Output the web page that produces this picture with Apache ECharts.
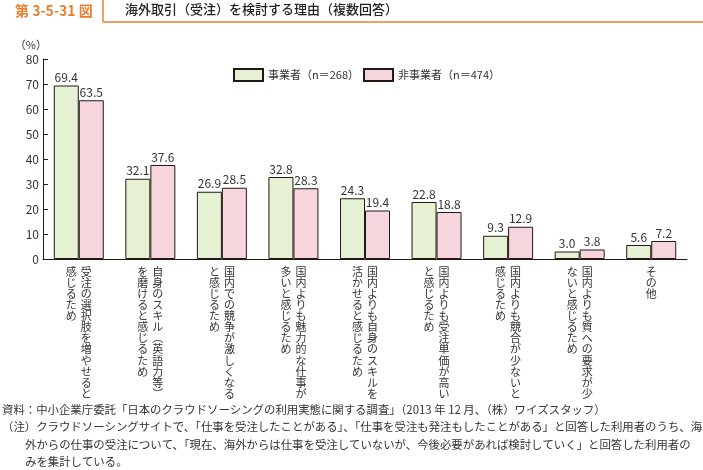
<!DOCTYPE html>
<html><head><meta charset="utf-8">
<script src="https://cdn.jsdelivr.net/npm/echarts@6/dist/echarts.min.js"></script>
<style>html,body{margin:0;padding:0;background:#fff}#c{width:703px;height:470px}</style>
</head><body><div id="c"></div>
<script>
const seriesNames = ['事業者（n＝268）', '非事業者（n＝474）'];
const rightCols = [
  '受注の選択肢を増やせると',
  '自身のスキル（英語力等）',
  '国内での競争が激しくなる',
  '国内よりも魅力的な仕事が',
  '国内よりも自身のスキルを',
  '国内よりも受注単価が高い',
  '国内よりも競合が少ないと',
  '国内よりも質への要求が少',
  'その他'
];
const leftCols = [
  '感じるため',
  'を磨けると感じるため',
  'と感じるため',
  '多いと感じるため',
  '活かせると感じるため',
  'と感じるため',
  '感じるため',
  'ないと感じるため',
  ''
];
const categories = rightCols.map((r, i) => r + leftCols[i]);
const jigyosha = [69.4, 32.1, 26.9, 32.8, 24.3, 22.8, 9.3, 3.0, 5.6];
const hiJigyosha = [63.5, 37.6, 28.5, 28.3, 19.4, 18.8, 12.9, 3.8, 7.2];
const yTicks = {min: 0, max: 80, interval: 10};

const FONT = '"Noto Sans CJK JP", "Noto Sans", sans-serif';
const TXT = '#333';

function vert(s) {
  return Array.from(s.replace(/（/g, '︵').replace(/）/g, '︶'));
}
function makeLabel(idx) {
  const r = vert(rightCols[idx]);
  const l = vert(leftCols[idx]);
  const lines = [];
  if (l.length === 0) {
    r.forEach(ch => lines.push('{c|' + ch + '}'));
  } else {
    const n = Math.max(r.length, l.length);
    for (let i = 0; i < n; i++) {
      lines.push('{a|' + (l[i] || '　') + '}{b|' + (r[i] || '　') + '}');
    }
  }
  return lines.join('\n');
}
const colStyle = {width: 15, align: 'center', fontSize: 11, lineHeight: 11.1, fontFamily: FONT, color: TXT};

const chart = echarts.init(document.getElementById('c'));
chart.setOption({
  animation: false,
  textStyle: {fontFamily: FONT},
  grid: {left: 43, right: 16, top: 59, bottom: 211, containLabel: false},
  legend: {
    left: 228, top: 63, icon: 'rect', itemWidth: 29, itemHeight: 12, itemGap: 4,
    textStyle: {fontSize: 11, color: TXT, fontFamily: FONT},
    data: seriesNames
  },
  xAxis: {
    type: 'category', data: categories,
    axisLine: {lineStyle: {color: '#231815', width: 1}},
    axisTick: {inside: true, length: 5, lineStyle: {color: '#231815'}},
    axisLabel: {
      interval: 0, margin: 7,
      formatter: (v, idx) => makeLabel(idx),
      rich: {a: colStyle, b: colStyle, c: Object.assign({}, colStyle, {width: 30})}
    }
  },
  yAxis: {
    type: 'value', min: yTicks.min, max: yTicks.max, interval: yTicks.interval,
    name: '（%）', nameLocation: 'end', nameGap: 14,
    nameTextStyle: {fontSize: 11, color: TXT, align: 'right', verticalAlign: 'middle', padding: [0, -4, 0, 0], fontFamily: FONT},
    axisLine: {show: true, lineStyle: {color: '#231815', width: 1}},
    axisTick: {show: true, inside: true, length: 5, lineStyle: {color: '#231815'}},
    axisLabel: {fontSize: 12, color: TXT, margin: 4, fontFamily: FONT},
    splitLine: {show: false}
  },
  series: [
    {
      name: seriesNames[0], type: 'bar', data: jigyosha, barWidth: 25, barGap: '0%',
      itemStyle: {color: '#e5f1d2', borderColor: '#231815', borderWidth: 1},
      label: {show: true, position: 'top', distance: 2, fontSize: 12, color: TXT, fontFamily: FONT, formatter: p => p.value.toFixed(1)}
    },
    {
      name: seriesNames[1], type: 'bar', data: hiJigyosha, barWidth: 25, barGap: '0%',
      itemStyle: {color: '#f6d5dc', borderColor: '#231815', borderWidth: 1},
      label: {show: true, position: 'top', distance: 2, fontSize: 12, color: TXT, fontFamily: FONT, formatter: p => p.value.toFixed(1)}
    }
  ],
  graphic: [
    {type: 'text', left: 15, top: 4, style: {text: '第 3-5-31 図', fill: '#e8802e', font: 'bold 14px ' + FONT}},
    {type: 'line', shape: {x1: 103, y1: 0, x2: 103, y2: 22}, style: {stroke: '#e8802e', lineWidth: 1.5}},
    {type: 'line', shape: {x1: 103, y1: 22, x2: 703, y2: 22}, style: {stroke: '#e8802e', lineWidth: 1.5}},
    {type: 'text', left: 125, top: 3, style: {text: '海外取引（受注）を検討する理由（複数回答）', fill: '#222', font: '500 13px ' + FONT}},
    {type: 'text', left: 2, top: 404, style: {text: '資料：中小企業庁委託「日本のクラウドソーシングの利用実態に関する調査」（2013 年 12 月、（株）ワイズスタッフ）', fill: TXT, font: '11.4px ' + FONT}},
    {type: 'text', left: 2, top: 421, style: {text: '（注）クラウドソーシングサイトで、「仕事を受注したことがある」、「仕事を受注も発注もしたことがある」と回答した利用者のうち、海', fill: TXT, font: '11.4px ' + FONT}},
    {type: 'text', left: 25, top: 439, style: {text: '外からの仕事の受注について、「現在、海外からは仕事を受注していないが、今後必要があれば検討していく」と回答した利用者の', fill: TXT, font: '11.4px ' + FONT}},
    {type: 'text', left: 25, top: 456, style: {text: 'みを集計している。', fill: TXT, font: '11.4px ' + FONT}}
  ]
});
</script></body></html>
